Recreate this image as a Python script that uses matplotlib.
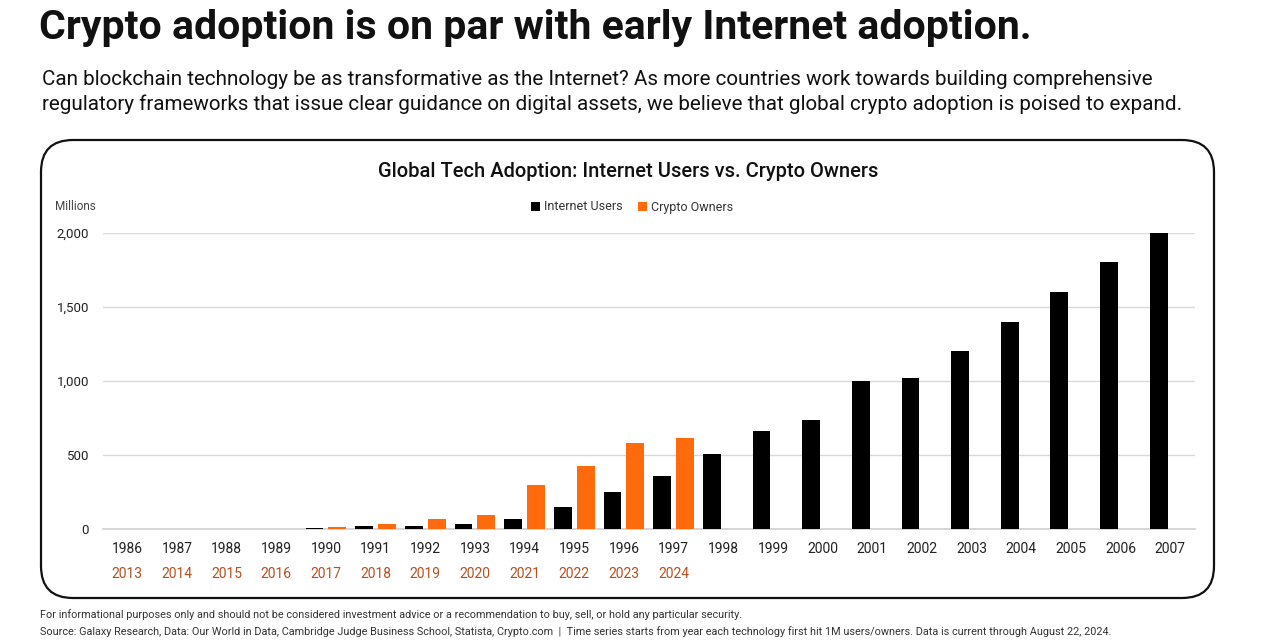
import matplotlib
matplotlib.use('Agg')
import matplotlib.pyplot as plt
from matplotlib.patches import FancyBboxPatch, Circle
from matplotlib.ticker import FuncFormatter
import numpy as np

internet_years = [str(y) for y in range(1986, 2008)]
crypto_years = [str(y) for y in range(2013, 2025)]
internet_users = [1, 1, 2, 4, 12, 25, 25, 34, 67, 148, 249, 361, 511, 665, 740,
                  1000, 1020, 1200, 1400, 1600, 1800, 2000]
crypto_owners = [0.5, 1, 1, 3, 16, 34, 67, 97, 296, 424, 579, 617]

title = "Crypto adoption is on par with early Internet adoption."
subtitle = ("Can blockchain technology be as transformative as the Internet? As more countries work towards building comprehensive\n"
            "regulatory frameworks that issue clear guidance on digital assets, we believe that global crypto adoption is poised to expand.")
chart_title = "Global Tech Adoption: Internet Users vs. Crypto Owners"
note1 = "For informational purposes only and should not be considered investment advice or a recommendation to buy, sell, or hold any particular security."
note2 = ("Source: Galaxy Research, Data: Our World in Data, Cambridge Judge Business School, Statista, Crypto.com  |  "
         "Time series starts from year each technology first hit 1M users/owners. Data is current through August 22, 2024.")

BLACK = '#000000'
ORANGE = '#FF6A0D'
ORANGE_TXT = '#B5501E'
FONT = 'Roboto'

plt.rcParams['font.family'] = [FONT, 'DejaVu Sans']

fig = plt.figure(figsize=(12.8, 6.44), dpi=100)
W, H = 1280, 644

def fx(px):
    return px / W

def fy(py):
    return 1 - py / H

# header
fig.text(fx(39), fy(28), title, fontsize=29.5, fontweight='bold', color='#111111',
         va='center', ha='left')
fig.text(fx(42), fy(92), subtitle, fontsize=14.9, color='#111111', va='center',
         ha='left', linespacing=1.35)

# rounded frame
box = FancyBboxPatch((fx(41), fy(598)), fx(1214) - fx(41), fy(140) - fy(598),
                     boxstyle="round,pad=0,rounding_size=0.025", transform=fig.transFigure,
                     facecolor='white', edgecolor='#111111', linewidth=1.6,
                     mutation_aspect=W / H, zorder=-1)
fig.patches.append(box)

fig.text(fx(628), fy(172), chart_title, fontsize=14.5, fontweight='medium',
         color='#111111', ha='center', va='center')
fig.text(fx(55), fy(207), "Millions", fontsize=8.5, color='#444444', ha='left', va='center')

# axes
ax = fig.add_axes([fx(103), fy(529.3), fx(1195) - fx(103), fy(232.7) - fy(529.3)])
ax.patch.set_alpha(0)
x_int = np.arange(len(internet_years))
x_cry = np.arange(len(crypto_years))
bw = 0.36
off = 0.23
ax.bar(x_int - off, internet_users, width=bw, color=BLACK, label='Internet Users', zorder=3)
ax.bar(x_cry + off, crypto_owners, width=bw, color=ORANGE, label='Crypto Owners', zorder=3)
ax.axhline(0, color='#cfcfcf', linewidth=1.2, zorder=2, clip_on=False)

ax.set_xlim(-0.49, 21.5)
ax.set_ylim(0, 2000)
ax.set_yticks([0, 500, 1000, 1500, 2000])
ax.yaxis.set_major_formatter(FuncFormatter(lambda v, p: f"{int(v):,}"))
ax.grid(axis='y', color='#d9d9d9', linewidth=1, zorder=0)
ax.set_axisbelow(True)
for s in ax.spines.values():
    s.set_visible(False)
ax.tick_params(axis='y', length=0, pad=10, labelsize=9.5, labelcolor='#222222')
ax.tick_params(axis='x', length=0, pad=9, labelsize=10, labelcolor='#222222')
ax.set_xticks(x_int)
ax.set_xticklabels(internet_years)

trans = ax.get_xaxis_transform()
for i, yr in enumerate(crypto_years):
    ax.text(x_cry[i], -44.5 / 296.6, yr, transform=trans, ha='center', va='center',
            fontsize=10, color=ORANGE_TXT)

leg = ax.legend(loc='center', ncol=2, frameon=False, fontsize=9,
                handlelength=0.7, handleheight=0.7, handletextpad=0.3,
                columnspacing=1.3, borderaxespad=0,
                bbox_to_anchor=(fx(632), fy(207)), bbox_transform=fig.transFigure)
for t in leg.get_texts():
    t.set_color('#333333')

# footer
fig.text(fx(40), fy(615), note1, fontsize=7.8, color='#333333', ha='left', va='center')
fig.text(fx(40), fy(632), note2, fontsize=7.8, color='#333333', ha='left', va='center')

logo = Circle((fx(1257), fy(664)), 0.02, transform=fig.transFigure, color='#1b4fa8')
fig.patches.append(logo)

fig.savefig('out.png', dpi=100, facecolor='white')
